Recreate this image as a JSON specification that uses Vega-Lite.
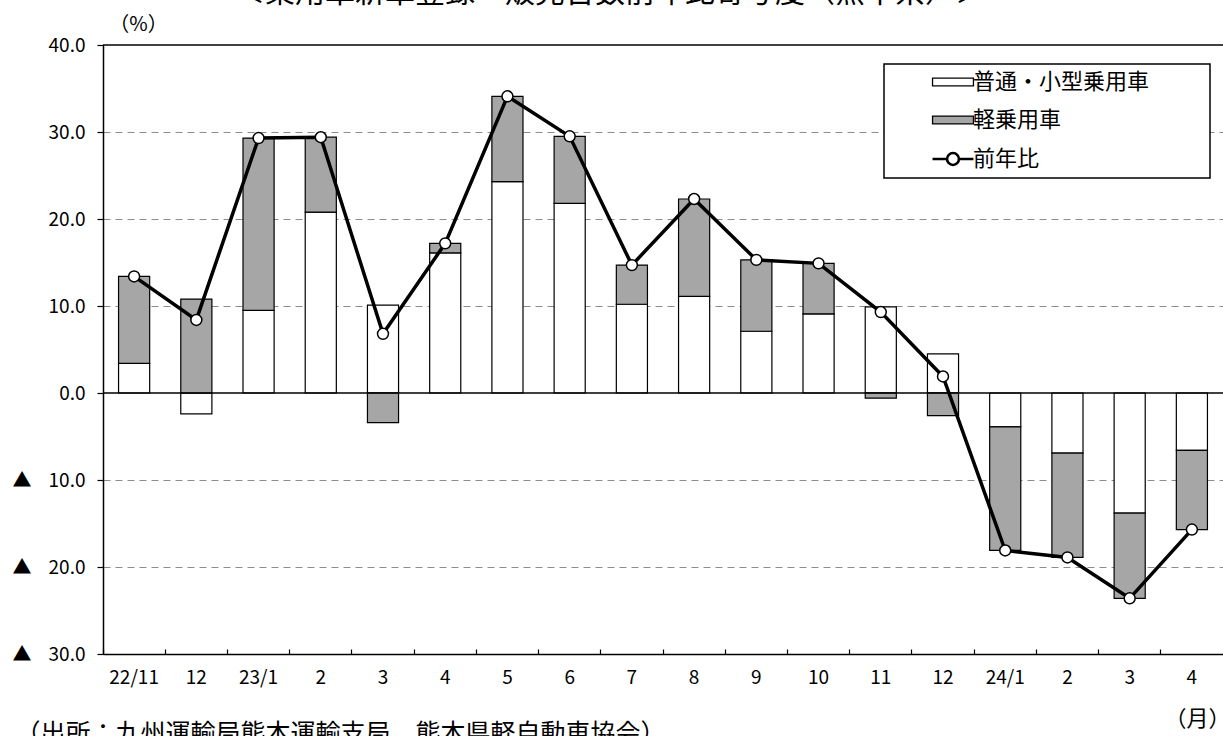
{
  "$schema": "https://vega.github.io/schema/vega-lite/v6.json",
  "width": 1120,
  "height": 609,
  "autosize": {"type": "none"},
  "padding": {"left": 103, "top": 45, "right": 0, "bottom": 82},
  "background": "white",
  "title": {
    "text": "＜乗用車新車登録・販売台数前年比寄与度（熊本県）＞",
    "fontSize": 30,
    "fontWeight": "normal",
    "font": "Noto Sans CJK JP",
    "color": "black",
    "anchor": "middle",
    "frame": "group",
    "dx": -53,
    "offset": 6
  },
  "config": {
    "font": "Noto Sans CJK JP",
    "view": {"stroke": null}
  },
  "data": {
    "values": [
      {"m": "22/11", "type": "普通・小型乗用車", "v": 3.4},
      {"m": "22/11", "type": "軽乗用車", "v": 10.0},
      {"m": "22/11", "type": "前年比", "v": 13.4},
      {"m": "22/12", "type": "普通・小型乗用車", "v": -2.4},
      {"m": "22/12", "type": "軽乗用車", "v": 10.8},
      {"m": "22/12", "type": "前年比", "v": 8.4},
      {"m": "23/1", "type": "普通・小型乗用車", "v": 9.5},
      {"m": "23/1", "type": "軽乗用車", "v": 19.8},
      {"m": "23/1", "type": "前年比", "v": 29.3},
      {"m": "23/2", "type": "普通・小型乗用車", "v": 20.8},
      {"m": "23/2", "type": "軽乗用車", "v": 8.6},
      {"m": "23/2", "type": "前年比", "v": 29.4},
      {"m": "23/3", "type": "普通・小型乗用車", "v": 10.1},
      {"m": "23/3", "type": "軽乗用車", "v": -3.4},
      {"m": "23/3", "type": "前年比", "v": 6.8},
      {"m": "23/4", "type": "普通・小型乗用車", "v": 16.1},
      {"m": "23/4", "type": "軽乗用車", "v": 1.1},
      {"m": "23/4", "type": "前年比", "v": 17.2},
      {"m": "23/5", "type": "普通・小型乗用車", "v": 24.3},
      {"m": "23/5", "type": "軽乗用車", "v": 9.8},
      {"m": "23/5", "type": "前年比", "v": 34.1},
      {"m": "23/6", "type": "普通・小型乗用車", "v": 21.8},
      {"m": "23/6", "type": "軽乗用車", "v": 7.7},
      {"m": "23/6", "type": "前年比", "v": 29.5},
      {"m": "23/7", "type": "普通・小型乗用車", "v": 10.2},
      {"m": "23/7", "type": "軽乗用車", "v": 4.5},
      {"m": "23/7", "type": "前年比", "v": 14.7},
      {"m": "23/8", "type": "普通・小型乗用車", "v": 11.1},
      {"m": "23/8", "type": "軽乗用車", "v": 11.2},
      {"m": "23/8", "type": "前年比", "v": 22.3},
      {"m": "23/9", "type": "普通・小型乗用車", "v": 7.1},
      {"m": "23/9", "type": "軽乗用車", "v": 8.2},
      {"m": "23/9", "type": "前年比", "v": 15.3},
      {"m": "23/10", "type": "普通・小型乗用車", "v": 9.1},
      {"m": "23/10", "type": "軽乗用車", "v": 5.8},
      {"m": "23/10", "type": "前年比", "v": 14.9},
      {"m": "23/11", "type": "普通・小型乗用車", "v": 9.9},
      {"m": "23/11", "type": "軽乗用車", "v": -0.6},
      {"m": "23/11", "type": "前年比", "v": 9.3},
      {"m": "23/12", "type": "普通・小型乗用車", "v": 4.5},
      {"m": "23/12", "type": "軽乗用車", "v": -2.6},
      {"m": "23/12", "type": "前年比", "v": 1.9},
      {"m": "24/1", "type": "普通・小型乗用車", "v": -3.9},
      {"m": "24/1", "type": "軽乗用車", "v": -14.2},
      {"m": "24/1", "type": "前年比", "v": -18.1},
      {"m": "24/2", "type": "普通・小型乗用車", "v": -6.9},
      {"m": "24/2", "type": "軽乗用車", "v": -12.0},
      {"m": "24/2", "type": "前年比", "v": -18.9},
      {"m": "24/3", "type": "普通・小型乗用車", "v": -13.8},
      {"m": "24/3", "type": "軽乗用車", "v": -9.8},
      {"m": "24/3", "type": "前年比", "v": -23.6},
      {"m": "24/4", "type": "普通・小型乗用車", "v": -6.6},
      {"m": "24/4", "type": "軽乗用車", "v": -9.1},
      {"m": "24/4", "type": "前年比", "v": -15.7}
    ]
  },
  "resolve": {"axis": {"x": "independent"}},
  "layer": [
    {
      "transform": [{"filter": "datum.type !== '前年比'"}],
      "mark": {"type": "bar", "stroke": "black", "strokeWidth": 1.2, "width": {"band": 0.5}},
      "encoding": {
        "x": {
          "field": "m",
          "type": "nominal",
          "scale": {
            "type": "band",
            "paddingInner": 0,
            "paddingOuter": 0,
            "domain": ["22/11","22/12","23/1","23/2","23/3","23/4","23/5","23/6","23/7","23/8","23/9","23/10","23/11","23/12","24/1","24/2","24/3","24/4"]
          },
          "axis": {
            "orient": "bottom",
            "title": "（月）",
            "titleFont": "Noto Sans CJK JP",
            "titleFontSize": 22,
            "titleFontWeight": "normal",
            "titleColor": "black",
            "titleX": 1094,
            "titleY": 64,
            "titleAlign": "center",
            "titleBaseline": "middle",
            "titleAngle": 0,
            "bandPosition": 0,
            "labelAngle": 0,
            "labelExpr": "indexof(['22/11','23/1','24/1'], datum.value) >= 0 ? datum.value : split(datum.value, '/')[1]",
            "labelFont": "Noto Sans CJK JP",
            "labelFontSize": 19,
            "labelColor": "black",
            "labelBaseline": "middle",
            "labelPadding": 28,
            "tickSize": -5,
            "tickColor": "black",
            "tickWidth": 1.2,
            "domainColor": "black",
            "domainWidth": 1.5,
            "grid": false
          }
        },
        "y": {
          "field": "v",
          "type": "quantitative",
          "stack": "zero",
          "scale": {"domain": [-30, 40], "nice": false, "zero": false},
          "axis": {
            "title": "（%）",
            "titleFont": "Noto Sans CJK JP",
            "titleFontSize": 20,
            "titleFontWeight": "normal",
            "titleColor": "black",
            "titleAngle": 0,
            "titleX": 35,
            "titleY": -21,
            "titleAlign": "center",
            "titleBaseline": "middle",
            "values": [-30, -20, -10, 0, 10, 20, 30, 40],
            "labelExpr": "datum.value < 0 ? '▲\u00a0\u00a0\u00a0\u00a0' + format(-datum.value, '.1f') : format(datum.value, '.1f')",
            "labelFont": "Noto Sans CJK JP",
            "labelFontSize": 19,
            "labelColor": "black",
            "labelPadding": 12,
            "tickSize": 6,
            "tickColor": "black",
            "tickWidth": 1.2,
            "domainColor": "black",
            "domainWidth": 1.5,
            "grid": true,
            "gridColor": "#8c8c8c",
            "gridDash": [7, 5],
            "gridWidth": 1.2,
            "gridOpacity": {"condition": {"test": "datum.value === 0 || datum.value === 40 || datum.value === -30", "value": 0}, "value": 1}
          }
        },
        "color": {
          "field": "type",
          "type": "nominal",
          "scale": {
            "domain": ["普通・小型乗用車", "軽乗用車", "前年比"],
            "range": ["#ffffff", "#a6a6a6", "#ffffff"]
          },
          "legend": {
            "orient": "none",
            "legendX": 781,
            "legendY": 19,
            "title": "\u2800",
            "titleOrient": "right",
            "titlePadding": 46,
            "titleFontSize": 10,
            "titleFont": "DejaVu Sans",
            "padding": 7,
            "symbolOffset": 51,
            "labelOffset": 9,
            "symbolSize": 1089,
            "rowPadding": 16,
            "labelFont": "Noto Sans CJK JP",
            "labelFontSize": 22,
            "labelColor": "black",
            "labelLimit": 400,
            "strokeColor": "black",
            "fillColor": "white",
            "symbolStrokeColor": "black",
            "symbolStrokeWidth": 1.8,
            "symbolOpacity": 1,
            "encode": {
              "legend": {"update": {"stroke": {"value": "black"}, "strokeWidth": {"value": 1.5}}},
              "symbols": {
                "update": {
                  "shape": {"signal": "datum.value === '前年比' ? 'M-1.24,0H-0.36M0.36,0H1.24M0.36,0A0.36,0.36,0,1,1,-0.36,0A0.36,0.36,0,1,1,0.36,0Z' : 'M-1.24,-0.24H1.24V0.24H-1.24Z'"},
                  "strokeWidth": {"signal": "datum.value === '前年比' ? 2.6 : 1.3"}
                }
              }
            }
          }
        },
        "order": {"field": "type", "sort": "ascending"}
      }
    },
    {
      "data": {"values": [{}]},
      "mark": {"type": "rule", "color": "black", "strokeWidth": 1.5},
      "encoding": {"y": {"datum": 0}}
    },
    {
      "data": {"values": [{}]},
      "mark": {"type": "rule", "color": "black", "strokeWidth": 1.5},
      "encoding": {"y": {"datum": 40}}
    },
    {
      "transform": [{"filter": "datum.type === '前年比'"}],
      "mark": {"type": "line", "color": "black", "strokeWidth": 3.5},
      "encoding": {
        "x": {"field": "m", "type": "nominal", "axis": null},
        "y": {"field": "v", "type": "quantitative"}
      }
    },
    {
      "transform": [{"filter": "datum.type === '前年比'"}],
      "mark": {"type": "point", "filled": true, "fill": "white", "stroke": "black", "strokeWidth": 1.5, "size": 120, "opacity": 1},
      "encoding": {
        "x": {
          "field": "m",
          "type": "nominal",
          "axis": {
            "orient": "bottom",
            "title": "（出所：九州運輸局熊本運輸支局、熊本県軽自動車協会）",
            "titleFont": "Noto Sans CJK JP",
            "titleFontSize": 25,
            "titleFontWeight": "normal",
            "titleColor": "black",
            "titleX": -88,
            "titleY": 87,
            "titleAlign": "left",
            "titleBaseline": "alphabetic",
            "titleAngle": 0,
            "titleLimit": 1000,
            "labels": false,
            "ticks": false,
            "domain": false,
            "grid": false
          }
        },
        "y": {"field": "v", "type": "quantitative"}
      }
    }
  ]
}
